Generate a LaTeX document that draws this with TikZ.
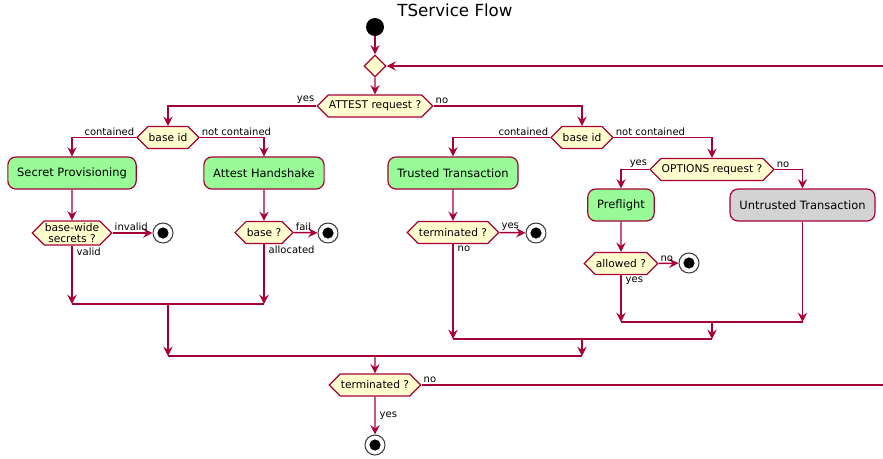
\documentclass[tikz,border=0pt]{standalone}
\usepackage{fontspec}
\setmainfont{DejaVu Sans}
\usetikzlibrary{shapes.symbols,shapes.geometric,arrows.meta}
\definecolor{umlred}{HTML}{A80036}
\definecolor{umlyellow}{HTML}{FEFECE}
\definecolor{umlgreen}{HTML}{98FB98}
\definecolor{umlgray}{HTML}{D3D3D3}
\tikzset{
	flowline/.style={draw=umlred, line width=1.1pt, -{Stealth[length=7pt, width=7pt, inset=2.5pt]}},
	barline/.style={draw=umlred, line width=1.1pt},
	decision/.style={signal, signal to=east and west, signal pointer angle=90, draw=umlred, fill=umlyellow, line width=0.9pt, inner xsep=0.5pt, inner ysep=1pt, minimum height=16.5pt, font=\fontsize{8}{8.5}\selectfont, align=center},
	activity/.style={rectangle, rounded corners=6pt, draw=umlred, fill=umlgreen, line width=0.9pt, inner xsep=7pt, minimum height=24pt, font=\fontsize{8.6}{10}\selectfont},
	lbl/.style={inner sep=1pt, font=\fontsize{7.5}{9}\selectfont},
	stopnode/.style={circle, draw=black!75, fill=white, line width=0.8pt, minimum size=15pt, inner sep=0pt, path picture={\fill[black] (path picture bounding box.center) circle (4.2pt);}}
}
\begin{document}
\begin{tikzpicture}[x=0.75pt, y=-0.75pt]
		\useasboundingbox (0, 0) rectangle (883, 458);
		% title and start
		\node[font=\fontsize{12.5}{14}\selectfont] (title) at (455, 10) {TService Flow};
		\node[circle, fill=black, minimum size=13.5pt, inner sep=0pt] (start) at (375, 27) {};
		\node[diamond, draw=umlred, fill=umlyellow, line width=0.9pt, minimum size=16.5pt, inner sep=0pt] (mdia) at (375, 66) {};
		\node[decision] (attest) at (375, 106) {ATTEST request ?};
		% branch decisions
		\node[decision] (bidL) at (168, 137.5) {base id};
		\node[decision] (bidR) at (582, 137.5) {base id};
		\node[decision] (options) at (712, 169.5) {OPTIONS request ?};
		% activities
		\node[activity] (secret) at (72, 173) {Secret Provisioning};
		\node[activity] (handshake) at (264, 173) {Attest Handshake};
		\node[activity] (trusted) at (453, 173) {Trusted Transaction};
		\node[activity] (preflight) at (621, 205) {Preflight};
		\node[activity, fill=umlgray] (untrusted) at (802.5, 205) {Untrusted Transaction};
		% checks
		\node[decision, minimum height=18pt] (bwide) at (72, 233) {base-wide\\secrets ?};
		\node[decision] (basech) at (264, 232.5) {base ?};
		\node[decision] (termA) at (453, 232.5) {terminated ?};
		\node[decision] (allowed) at (621, 263.5) {allowed ?};
		\node[stopnode] (stopA) at (163, 233) {};
		\node[stopnode] (stopB) at (328, 233) {};
		\node[stopnode] (stopC) at (536, 233) {};
		\node[stopnode] (stopD) at (689, 263) {};
		% merges
		\coordinate (mL) at (168, 304);
		\coordinate (mP) at (712, 322);
		\coordinate (mR) at (582, 339);
		\coordinate (mAll) at (375, 356);
		\coordinate (loopc) at (900, 0);
		\node[decision] (fterm) at (375, 385) {terminated ?};
		\node[stopnode] (stopE) at (375, 445) {};
		% connectors
		\draw[flowline] (start) -- (mdia);
		\draw[flowline] (mdia) -- (attest);
		\draw[flowline] (attest.west) -| node[lbl, pos=0, anchor=south east] {yes} (bidL.north);
		\draw[flowline] (attest.east) -| node[lbl, pos=0, anchor=south west] {no} (bidR.north);
		\draw[flowline] (bidL.west) -| node[lbl, pos=0, anchor=south east] {contained} (secret.north);
		\draw[flowline] (bidL.east) -| node[lbl, pos=0, anchor=south west] {not contained} (handshake.north);
		\draw[flowline] (bidR.west) -| node[lbl, pos=0, anchor=south east] {contained} (trusted.north);
		\draw[flowline] (bidR.east) -| node[lbl, pos=0, anchor=south west] {not contained} (options.north);
		\draw[flowline] (options.west) -| node[lbl, pos=0, anchor=south east] {yes} (preflight.north);
		\draw[flowline] (options.east) -| node[lbl, pos=0, anchor=south west] {no} (untrusted.north);
		\draw[flowline] (secret) -- (bwide);
		\draw[flowline] (handshake) -- (basech);
		\draw[flowline] (trusted) -- (termA);
		\draw[flowline] (preflight) -- (allowed);
		\draw[flowline] (bwide.east) -- node[lbl, pos=0, anchor=south west] {invalid} (stopA);
		\draw[flowline] (basech.east) -- node[lbl, pos=0, anchor=south west] {fail} (stopB);
		\draw[flowline] (termA.east) -- node[lbl, pos=0, anchor=south west] {yes} (stopC);
		\draw[flowline] (allowed.east) -- node[lbl, pos=0, anchor=south west] {no} (stopD);
		\draw[flowline] (bwide.south) -- node[lbl, pos=0, anchor=north west, xshift=2pt] {valid} (bwide.south |- mL);
		\draw[flowline] (basech.south) -- node[lbl, pos=0, anchor=north west, xshift=2pt] {allocated} (basech.south |- mL);
		\draw[flowline] (termA.south) -- node[lbl, pos=0, anchor=north west, xshift=2pt] {no} (termA.south |- mR);
		\draw[flowline] (allowed.south) -- node[lbl, pos=0, anchor=north west, xshift=2pt] {yes} (allowed.south |- mP);
		\draw[flowline] (untrusted.south) -- (untrusted.south |- mP);
		\draw[barline] (bwide.south |- mL) -- (basech.south |- mL);
		\draw[barline] (allowed.south |- mP) -- (untrusted.south |- mP);
		\draw[flowline] (mP) -- (mP |- mR);
		\draw[barline] (termA.south |- mR) -- (mP |- mR);
		\draw[flowline] (mL) -- (mL |- mAll);
		\draw[flowline] (mR) -- (mR |- mAll);
		\draw[barline] (mL |- mAll) -- (mR |- mAll);
		\draw[flowline] (mAll) -- (fterm);
		\draw[flowline] (fterm) -- node[lbl, right, xshift=2pt] {yes} (stopE);
		\draw[flowline] (fterm.east) -- node[lbl, pos=0, anchor=south west] {no} (fterm.east -| loopc) |- (mdia.east);
		\end{tikzpicture}
\end{document}
